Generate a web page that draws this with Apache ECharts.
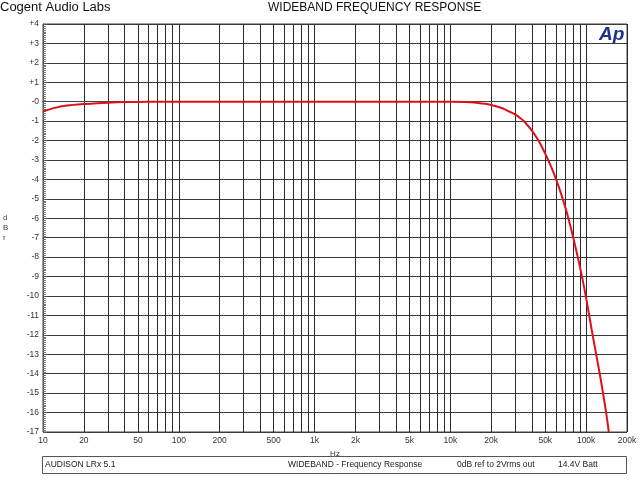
<!DOCTYPE html>
<html>
<head>
<meta charset="utf-8">
<script src="https://cdn.jsdelivr.net/npm/echarts@6/dist/echarts.min.js"></script>
<style>html,body{margin:0;padding:0;background:#fff;}#c{width:640px;height:480px;}</style>
</head>
<body>
<div id="c"></div>
<script>
// Data
var freqs = [10, 12, 15, 20, 25, 30, 40, 50, 70, 100, 1000, 5000, 10000, 13000, 16000, 18000, 20000, 22000, 25000, 27000, 30000, 33000, 35000, 40000, 45000, 50000, 55000, 60000, 65000, 70000, 75000, 80000, 90000, 100000, 110000, 120000, 130000, 140000, 147000];
var dBr = [-0.5, -0.33, -0.2, -0.12, -0.08, -0.05, -0.02, -0.01, 0, 0, 0, 0, 0, -0.02, -0.07, -0.11, -0.17, -0.25, -0.38, -0.5, -0.65, -0.86, -1.02, -1.5, -2.05, -2.68, -3.32, -3.98, -4.68, -5.4, -6.15, -6.94, -8.49, -10.1, -11.75, -13.2, -14.55, -15.95, -17];
var gridFreqs = [10,20,30,40,50,60,70,80,90,100,200,300,400,500,600,700,800,900,1000,2000,3000,4000,5000,6000,7000,8000,9000,10000,20000,30000,40000,50000,60000,70000,80000,90000,100000,200000];
var labelFreqs = [10,20,50,100,200,500,1000,2000,5000,10000,20000,50000,100000,200000];
var labelTexts = ['10','20','50','100','200','500','1k','2k','5k','10k','20k','50k','100k','200k'];

var chart = echarts.init(document.getElementById('c'), null, {renderer: 'canvas'});
var pts = freqs.map(function (f, i) { return [f, dBr[i]]; });
var font = 'Arial, "Liberation Sans", sans-serif';
chart.setOption({
  animation: false,
  backgroundColor: '#fff',
  grid: {left: 43, right: 13, top: 24, bottom: 48, show: true, borderColor: '#444', borderWidth: 1},
  xAxis: {
    type: 'log', logBase: 10, min: 10, max: 200000,
    name: 'Hz', nameLocation: 'middle', nameGap: 16,
    nameTextStyle: {fontFamily: font, fontSize: 8, color: '#333'},
    axisLine: {show: true, lineStyle: {color: '#444'}},
    axisTick: {show: false, customValues: gridFreqs},
    axisLabel: {customValues: labelFreqs, fontFamily: font, fontSize: 8.5, color: '#333', margin: 4,
      formatter: function (v) { var i = labelFreqs.indexOf(Math.round(v)); return i >= 0 ? labelTexts[i] : ''; }},
    splitLine: {show: true, lineStyle: {color: '#2a2a2a', width: 1}},
    minorTick: {show: false}, minorSplitLine: {show: false}
  },
  yAxis: {
    type: 'value', min: -17, max: 4, interval: 1,
    axisLine: {show: true, lineStyle: {color: '#444'}},
    axisTick: {show: true, inside: true, length: 4, lineStyle: {color: '#555'}},
    minorTick: {show: true, splitNumber: 10, length: 3, lineStyle: {color: '#777'}},
    axisLabel: {fontFamily: font, fontSize: 8.5, color: '#333', margin: 4,
      formatter: function (v) { return v === 0 ? '-0' : (v > 0 ? '+' + v : String(v)); }},
    splitLine: {show: true, lineStyle: {color: '#3a3a3a', width: 1}}
  },
  series: [{
    type: 'line', data: pts, smooth: 0.25, showSymbol: false, symbol: 'none', clip: true,
    lineStyle: {color: '#e0101a', width: 2}
  }],
  graphic: [
    {type: 'text', left: 0, top: 1, style: {text: 'Cogent Audio Labs', font: '13px ' + font, fill: '#111'}},
    {type: 'text', left: 268, top: 2, style: {text: 'WIDEBAND FREQUENCY RESPONSE', font: '12px ' + font, fill: '#111'}},
    {type: 'text', left: 599, top: 25, style: {text: 'Ap', font: 'italic bold 19px ' + font, fill: '#1f2f8c'}},
    {type: 'text', left: 3, top: 213, style: {text: 'd\nB\nr', font: '8px ' + font, fill: '#444', lineHeight: 10}},
    {type: 'rect', shape: {x: 42.5, y: 456.5, width: 584, height: 17}, style: {fill: '#fff', stroke: '#555', lineWidth: 1}},
    {type: 'text', left: 45, top: 460, style: {text: 'AUDISON LRx 5.1', font: '8.5px ' + font, fill: '#222'}},
    {type: 'text', left: 288, top: 460, style: {text: 'WIDEBAND - Frequency Response', font: '8.5px ' + font, fill: '#222'}},
    {type: 'text', left: 457, top: 460, style: {text: '0dB ref to 2Vrms out', font: '8.5px ' + font, fill: '#222'}},
    {type: 'text', left: 558, top: 460, style: {text: '14.4V Batt', font: '8.5px ' + font, fill: '#222'}}
  ]
});
</script>
</body>
</html>
